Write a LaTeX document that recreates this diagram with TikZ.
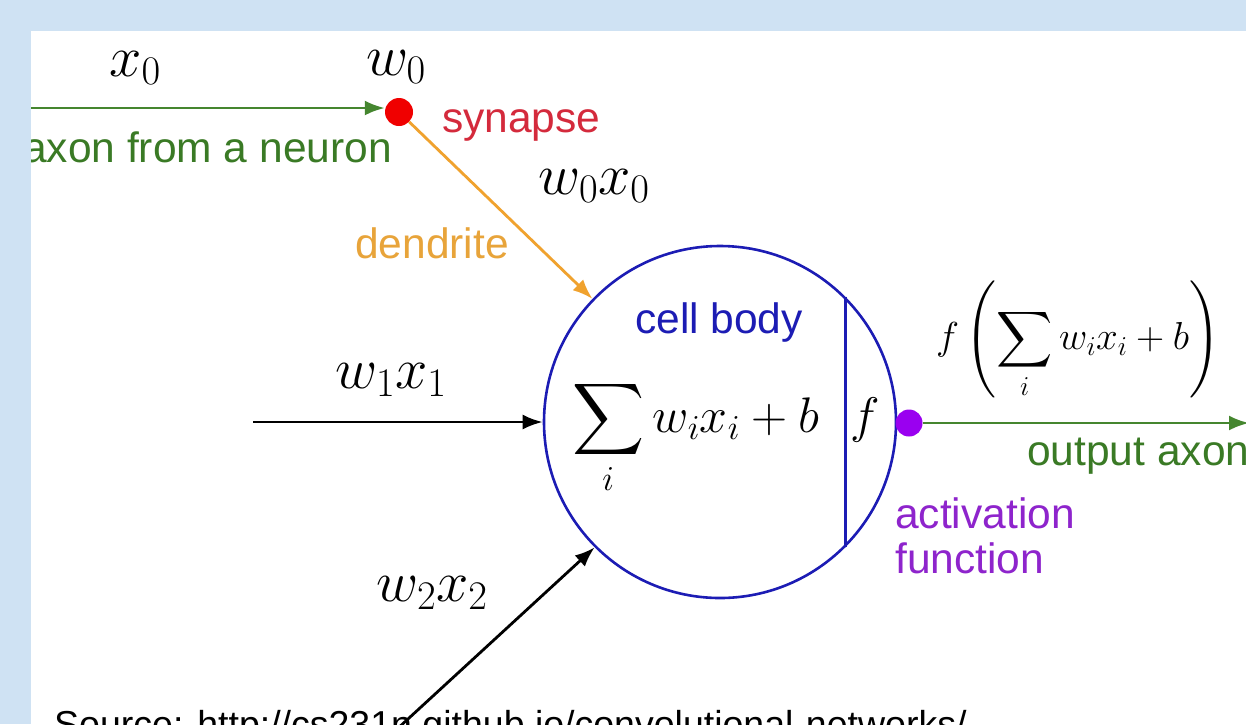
\RequirePackage{fix-cm}
\documentclass[tikz,border=0pt]{standalone}
\DeclareFontFamily{OMX}{cmex}{}
\DeclareFontShape{OMX}{cmex}{m}{n}{<->cmex10}{}
\usepackage[no-math]{fontspec}
\newfontfamily\arial{Liberation Sans}
\usetikzlibrary{arrows.meta}
\definecolor{bgblue}{HTML}{CFE2F3}
\definecolor{axgreen}{HTML}{45862F}
\definecolor{lblgreen}{HTML}{3A7A25}
\definecolor{synred}{HTML}{D42A3C}
\definecolor{dotred}{HTML}{F00000}
\definecolor{dendorange}{HTML}{F0A22E}
\definecolor{dendlbl}{HTML}{E8A43A}
\definecolor{cellblue}{HTML}{1C1CB4}
\definecolor{actpurple}{HTML}{9A00F0}
\definecolor{actlbl}{HTML}{8E24CC}
\begin{document}
\begin{tikzpicture}[x=1pt,y=-1pt,
  wire/.style={line width=2.8pt,-{Latex[length=20pt,width=15pt]}},
  lbl/.style={font=\arial\fontsize{42.5}{50}\selectfont, inner sep=0pt, anchor=base west},
  mlbl/.style={font=\fontsize{58}{66}\selectfont, inner sep=0pt},
  dot/.style={circle, inner sep=0pt}]
\useasboundingbox (0,0) rectangle (1246,724);
\fill[bgblue] (0,0) rectangle (1246,724);
\fill[white] (31,31) rectangle (1246,724);
\begin{scope}
\clip (31,31) rectangle (1246,724);
% cell body
\node[circle, draw=cellblue, line width=2.6pt, minimum size=352pt, inner sep=0pt] (cell) at (720,422) {};
\draw[cellblue, line width=2.6pt] (cell.45.3) -- (cell.-45.3);
% dots
\node[dot, fill=dotred, minimum size=28pt] (syn) at (399,112) {};
\node[dot, fill=actpurple, minimum size=27pt] (act) at (909,423) {};
% free ends
\coordinate (in0) at (20,108);
\coordinate (in1) at (253,422);
\coordinate (in2) at (396,730);
\coordinate (out) at (1249,423);
% source text
\node[font=\arial\fontsize{37.5}{44}\selectfont, anchor=base west, inner sep=0pt] (src) at (54,737) {Source: http://cs231n.github.io/convolutional-networks/};
% connectors
\draw[wire, axgreen] (in0) -- (in0 -| syn.west);
\draw[wire, dendorange] (syn) -- (cell);
\draw[wire, black] (in1) -- (cell);
\draw[wire, black] (in2) -- (cell.225);
\draw[wire, axgreen] (act) -- (out);
% labels
\node[mlbl] (lx0) at (135,68) {$x_0$};
\node[mlbl] (lw0) at (396,67) {$w_0$};
\node[lbl, anchor=base east, text=lblgreen] (laxon) at (392,162) {axon from a neuron};
\node[lbl, text=synred] (lsyn) at (442,132) {synapse};
\node[mlbl] (lw0x0) at (594,186) {$w_0x_0$};
\node[lbl, text=dendlbl] (ldend) at (355,258) {dendrite};
\node[lbl, text=cellblue] (lcell) at (635,333) {cell body};
\node[mlbl] (lw1x1) at (391,380) {$w_1x_1$};
\node[mlbl] (lw2x2) at (432,593) {$w_2x_2$};
\node[font=\fontsize{50}{58}\selectfont, inner sep=0pt, anchor=base west] (lsum) at (572,432) {$\displaystyle\sum_i w_ix_i+b$};
\node[font=\fontsize{50}{58}\selectfont, inner sep=0pt, anchor=base] (lf) at (865,432) {$f$};
\node[font=\fontsize{39}{45}\selectfont, inner sep=0pt] (lout) at (1078,340) {$f\left(\displaystyle\sum_i w_ix_i+b\right)$};
\node[lbl, text=lblgreen] (laxout) at (1027,465) {output axon};
\node[lbl, text=actlbl] (lact) at (895,528) {activation};
\node[lbl, text=actlbl] (lfun) at (895,573) {function};
\end{scope}
\end{tikzpicture}
\end{document}
